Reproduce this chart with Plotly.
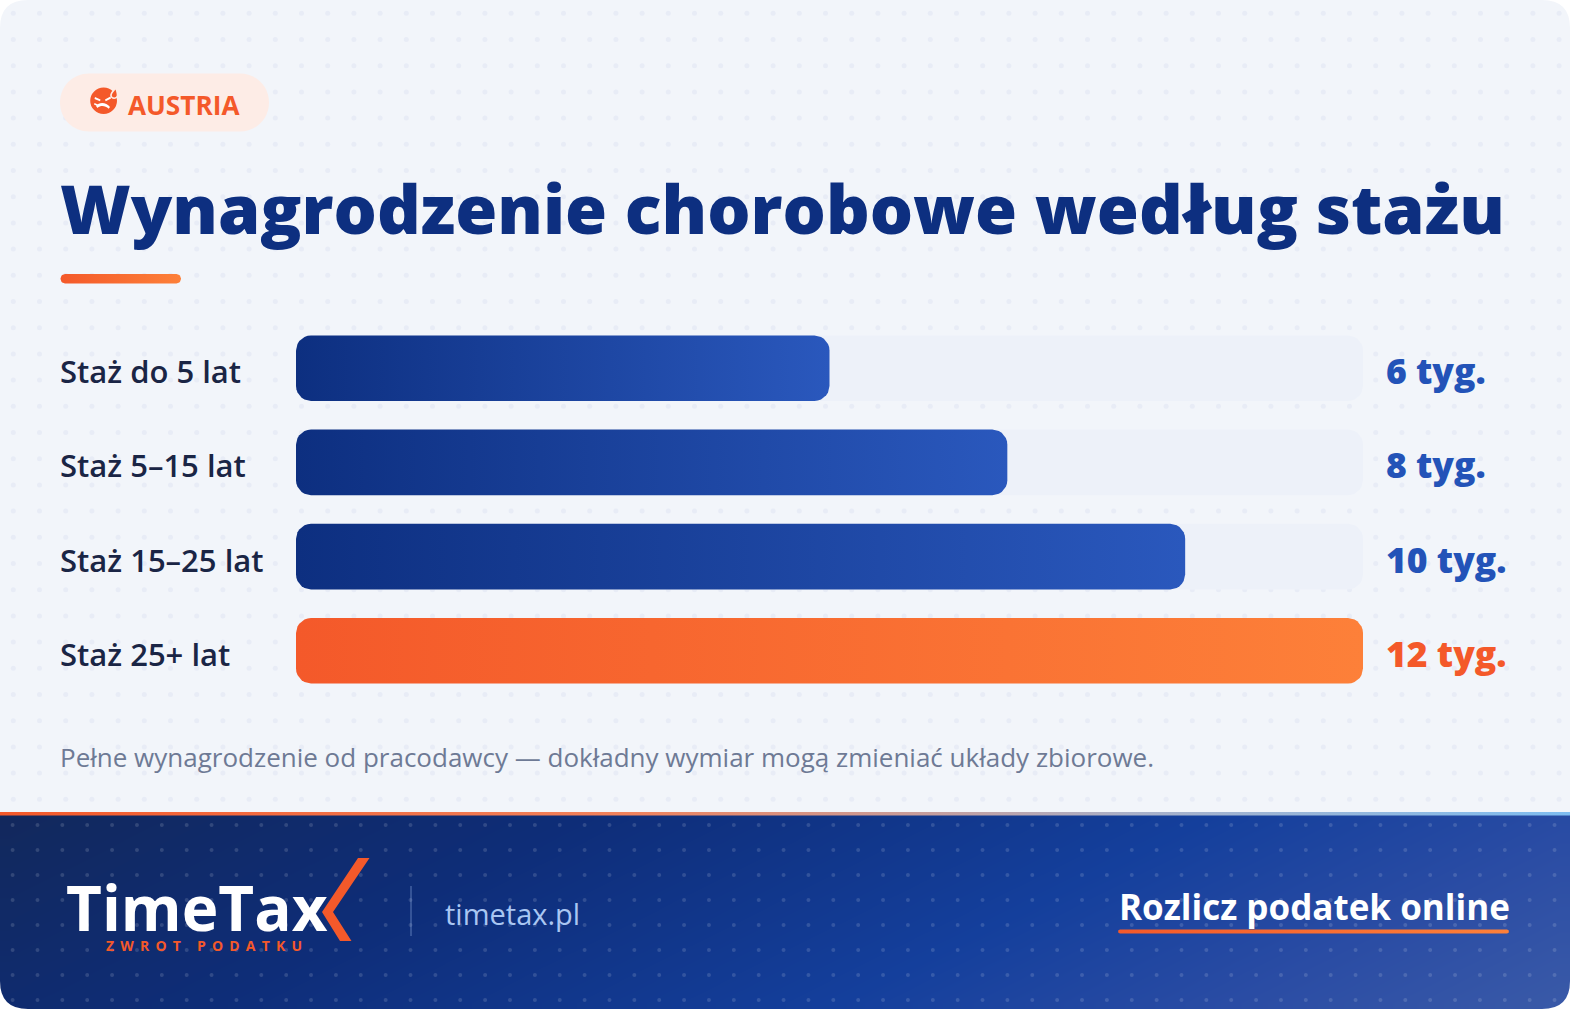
import numpy as np
import plotly.graph_objects as go

W, H = 1570, 1009

# ---- data ----
categories = ["Staż do 5 lat", "Staż 5–15 lat", "Staż 15–25 lat", "Staż 25+ lat"]
weeks = [6, 8, 10, 12]
value_labels = ["6 tyg.", "8 tyg.", "10 tyg.", "12 tyg."]
axis_max = 12

BLUE_A, BLUE_B = "#0d2f80", "#2a58bd"
ORANGE_A, ORANGE_B = "#f4592a", "#fd8039"
gradients = [(BLUE_A, BLUE_B)] * 3 + [(ORANGE_A, ORANGE_B)]
label_colors = ["#2353b8"] * 3 + ["#f4592a"]
solid = ["#1b43a0"] * 3 + ["#f96c32"]
NAVY = "#0d2f80"
FONT = "Open Sans"

# chart geometry in page pixels
X0, X1 = 296.0, 1363.0
PITCH = 94.2
FIRST_CY, BAR_H, RAD = 368.2, 65.6, 15.0
Y_TOP = FIRST_CY - PITCH / 2
Y_BOT = Y_TOP + PITCH * len(categories)


def rounded(x0, x1, y0, y1, rx, ry, n=8):
    """closed rounded-rectangle outline"""
    xs, ys = [], []
    for cx, cy, a0 in [(x1 - rx, y0 + ry, -90), (x1 - rx, y1 - ry, 0),
                       (x0 + rx, y1 - ry, 90), (x0 + rx, y0 + ry, 180)]:
        for a in np.radians(np.linspace(a0, a0 + 90, n)):
            xs.append(cx + rx * np.cos(a))
            ys.append(cy + ry * np.sin(a))
    xs.append(xs[0]); ys.append(ys[0])
    return xs, ys


def page_grad(x0, x1, y0, y1, r, stops):
    xs, ys = rounded(x0, x1, y0, y1, r, r)
    return go.Scatter(x=xs, y=ys, xaxis="x", yaxis="y", mode="lines", fill="toself",
                      line=dict(width=0), hoverinfo="skip", showlegend=False,
                      fillgradient=dict(type="horizontal", colorscale=stops))


fig = go.Figure()

# footer gradient background (cell edges, so it starts exactly at the footer top)
fx = np.linspace(0, W, 81)
fy = np.linspace(814, H, 17)
cx_, cy_ = (fx[:-1] + fx[1:]) / 2, (fy[:-1] + fy[1:]) / 2
fz = [[(x + 2 * (y - 814)) / (W + 2 * (H - 814)) for x in cx_] for y in cy_]
fig.add_trace(go.Heatmap(x=fx, y=fy, z=fz, zmin=0, zmax=1, zsmooth="best", showscale=False,
                         hoverinfo="skip", xaxis="x", yaxis="y",
                         colorscale=[[0, "#12285c"], [0.3, "#0e2d78"], [0.62, "#143f9c"],
                                     [0.82, "#2a4ca4"], [1, "#3a5aa8"]]))

# dotted textures
tx, ty = np.meshgrid(13.3 + 26.2 * np.arange(60), 13.3 + 26.2 * np.arange(31))
fig.add_trace(go.Scatter(x=tx.ravel(), y=ty.ravel(), mode="markers", hoverinfo="skip", showlegend=False,
                         xaxis="x", yaxis="y", marker=dict(size=5, color="#e8ecf6", line=dict(width=0))))
bx, by = np.meshgrid(12.6 + 24.87 * np.arange(63), 825 + 25 * np.arange(8))
fig.add_trace(go.Scatter(x=bx.ravel(), y=by.ravel(), mode="markers", hoverinfo="skip", showlegend=False,
                         xaxis="x", yaxis="y",
                         marker=dict(size=4, color="rgba(255,255,255,0.14)", line=dict(width=0))))

# decorative gradient strips
fig.add_trace(page_grad(0, W, 812, 815.5, 0.01,
                        [[0, "#f4592a"], [0.4, "#f0825c"], [0.72, "#a9b0c8"], [1, "#7fbdf0"]]))
fig.add_trace(page_grad(60.5, 181, 274, 283.5, 4.5, [[0, ORANGE_A], [1, ORANGE_B]]))
fig.add_trace(page_grad(1118, 1509, 929.5, 933.5, 2, [[0, ORANGE_A], [1, ORANGE_B]]))

# bars: a core bar per value, with a rounded outline of the same length over it
ypos = list(range(len(categories)))
rx = RAD * axis_max / (X1 - X0)
ry = RAD / PITCH
hb = BAR_H / PITCH / 2
for i in ypos:
    xs, ys = rounded(0, axis_max, i - hb, i + hb, rx, ry)
    fig.add_trace(go.Scatter(x=xs, y=ys, xaxis="x2", yaxis="y2", mode="lines", fill="toself",
                             fillcolor="#edf1f9", line=dict(width=0), hoverinfo="skip", showlegend=False))
fig.add_trace(go.Bar(y=ypos, x=weeks, orientation="h", width=(BAR_H - 2 * RAD - 2) / PITCH,
                     marker=dict(color=solid, line=dict(width=0)),
                     xaxis="x2", yaxis="y2", showlegend=False, customdata=categories,
                     hovertemplate="%{customdata}: %{x} tyg.<extra></extra>"))
for i, v in enumerate(weeks):
    xs, ys = rounded(0, v, i - hb, i + hb, rx, ry)
    fig.add_trace(go.Scatter(x=xs, y=ys, xaxis="x2", yaxis="y2", mode="lines", fill="toself",
                             line=dict(width=0), hoverinfo="skip", showlegend=False,
                             fillgradient=dict(type="horizontal",
                                               colorscale=[[0, gradients[i][0]], [1, gradients[i][1]]])))


def page_shape(path, color):
    return dict(type="path", path=path, xref="x", yref="y", fillcolor=color,
                line=dict(width=0), layer="above")


R = 28
shapes = [
    # page corners
    page_shape(f"M0,0 L{R},0 Q0,0 0,{R} Z", "#ffffff"),
    page_shape(f"M{W},0 L{W-R},0 Q{W},0 {W},{R} Z", "#ffffff"),
    page_shape(f"M0,{H} L{R},{H} Q0,{H} 0,{H-R} Z", "#ffffff"),
    page_shape(f"M{W},{H} L{W-R},{H} Q{W},{H} {W},{H-R} Z", "#ffffff"),
    # badge
    page_shape("M89,73.5 L240,73.5 C256,73.5 269,86 269,102.5 C269,119 256,131.5 240,131.5 "
               "L89,131.5 C73,131.5 60,119 60,102.5 C60,86 73,73.5 89,73.5 Z", "#fdece6"),
    # icon
    dict(type="circle", x0=90.2, x1=117, y0=87.5, y1=114, xref="x", yref="y", layer="above",
         fillcolor="#f4592a", line=dict(width=0)),
    page_shape("M115.5,87 C113.5,90 110,92.5 110.2,95.7 C110.4,99.5 117,100.5 118,95.7 C118.4,93 117,90 115.5,87 Z", "#fdece6"),
    page_shape("M115.5,89.5 C114,91.5 111.7,93.5 111.8,95.6 C112,98 116.2,98.3 116.7,95.6 C116.9,94 116.2,91.5 115.5,89.5 Z", "#f4592a"),
    page_shape("M95,97 L100.5,99.5 L100,101.3 L94.5,99 Z", "#ffffff"),
    page_shape("M110.5,96.5 L105,99.5 L105.7,101.2 L111,98.5 Z", "#ffffff"),
    page_shape("M96,106 C99,102 106,102 110,107 L108.7,108.8 C105,105.3 100.5,105.3 97.5,108 Z", "#ffffff"),
    page_shape("M94.5,103 L98,104.6 L97.2,106 L94,104.5 Z", "#ffffff"),
    # logo chevron
    page_shape("M358,858 L369.5,858 L333,912 L351.5,941 L340,941 L322,912 Z", "#f4592a"),
    # divider
    dict(type="line", x0=411, x1=411, y0=886, y1=936, xref="x", yref="y", layer="above",
         line=dict(color="rgba(160,190,240,0.45)", width=1.2)),
]


def page_text(txt, x, y, size, color, weight=400, anchor="left"):
    return dict(text=txt, x=x, y=y, xref="x", yref="y", xanchor=anchor, yanchor="middle",
                showarrow=False, align="left",
                font=dict(family=FONT, size=size, color=color, weight=weight))


annotations = [
    page_text("AUSTRIA", 126, 104.5, 26.2, "#f4592a", 700),
    page_text("Wynagrodzenie chorobowe według stażu", 58, 207, 68.1, NAVY, 800),
    page_text("Pełne wynagrodzenie od pracodawcy — dokładny wymiar mogą zmieniać układy zbiorowe.",
              58, 757, 26, "#6e7a95", 400),
    page_text("TimeTax", 63.5, 907, 62, "#ffffff", 700),
    page_text("ZWROT PODATKU", 104, 945.5, 14, "#f4592a", 700),
    page_text("timetax.pl", 442.5, 913, 29, "#a9c6f2", 400),
    page_text("Rozlicz podatek online", 1116.5, 906, 35, "#ffffff", 700),
]
for i, c in enumerate(categories):
    annotations.append(dict(text=c, x=58, y=i + 3 / PITCH, xref="x", yref="y2", xanchor="left", yanchor="middle",
                            showarrow=False, font=dict(family=FONT, size=31, color="#1a2545", weight=600)))
    annotations.append(dict(text=value_labels[i], x=1384, y=i + 2 / PITCH, xref="x", yref="y2", xanchor="left",
                            yanchor="middle", showarrow=False,
                            font=dict(family=FONT, size=35.5, color=label_colors[i], weight=800)))

hidden = dict(visible=False, showgrid=False, zeroline=False, fixedrange=True)
fig.update_layout(
    width=W, height=H, autosize=False, margin=dict(l=0, r=0, t=0, b=0, pad=0),
    paper_bgcolor="#f2f5fa", plot_bgcolor="rgba(0,0,0,0)", barmode="overlay", showlegend=False,
    xaxis=dict(domain=[0, 1], range=[0, W], **hidden),
    yaxis=dict(domain=[0, 1], range=[H, 0], **hidden),
    xaxis2=dict(domain=[X0 / W, X1 / W], range=[0, axis_max], anchor="y2", **hidden),
    yaxis2=dict(domain=[1 - Y_BOT / H, 1 - Y_TOP / H], range=[len(categories) - 0.5, -0.5], anchor="x2", **hidden),
    shapes=shapes, annotations=annotations,
)

post = """
document.body.style.margin='0';
document.documentElement.style.overflow='hidden';
document.querySelectorAll('text').forEach(function(t){
  if(t.textContent==='ZWROT PODATKU'){t.style.letterSpacing='6.2px';}
});
"""
fig.write_html("out.html", post_script=post, config={"displayModeBar": False})
